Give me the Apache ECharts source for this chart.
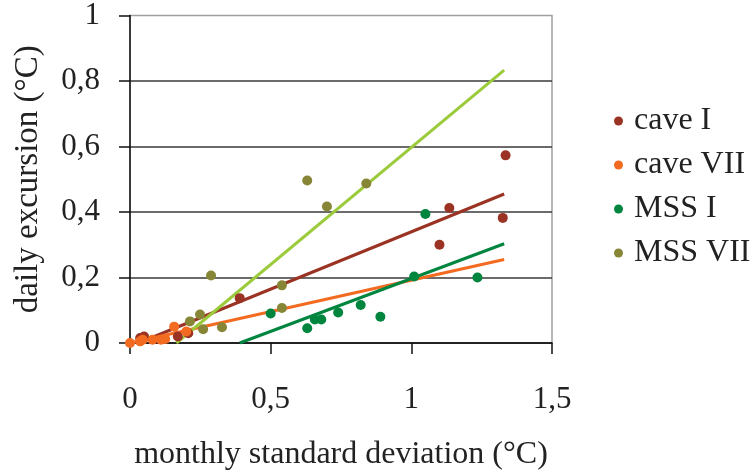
<!DOCTYPE html>
<html>
<head>
<meta charset="utf-8">
<script src="https://cdn.jsdelivr.net/npm/echarts@6/dist/echarts.min.js"></script>
<style>html,body{margin:0;padding:0;background:#fff;}#c{width:752px;height:476px;}</style>
</head>
<body>
<div id="c"></div>
<script>
// ---- data ----
var seriesNames = ['cave I', 'cave VII', 'MSS I', 'MSS VII'];
var caveI = [[0.036,0.015],[0.05,0.02],[0.17,0.02],[0.207,0.03],[0.39,0.137],[1.10,0.30],[1.135,0.412],[1.325,0.382],[1.335,0.573]];
var caveVII = [[0.0,0.0],[0.036,0.005],[0.045,0.01],[0.08,0.01],[0.11,0.01],[0.125,0.012],[0.157,0.05],[0.20,0.035]];
var mssI = [[0.50,0.09],[0.63,0.045],[0.657,0.072],[0.68,0.072],[0.74,0.093],[0.82,0.116],[0.89,0.08],[1.01,0.203],[1.05,0.394],[1.235,0.2]];
var mssVII = [[0.213,0.066],[0.249,0.087],[0.26,0.042],[0.288,0.206],[0.327,0.048],[0.54,0.176],[0.54,0.107],[0.63,0.496],[0.70,0.417],[0.84,0.487]];
var trendCaveI = [[0.03,0.0],[1.33,0.455]];
var trendCaveVII = [[0.0,0.0],[1.33,0.255]];
var trendMssI = [[0.39,0.0],[1.33,0.303]];
var trendMssVII = [[0.165,0.0],[1.33,0.833]];
var xTicks = [0, 0.5, 1, 1.5];
var yTicks = [0, 0.2, 0.4, 0.6, 0.8, 1];

var colors = ['#9a3324', '#f26b21', '#00853f', '#878636'];
var lineColors = ['#9a3324', '#f26b21', '#00853f', '#9bcb3b'];
var font = 'Liberation Serif';
function fmt(v){ return String(v).replace('.', ','); }

var chart = echarts.init(document.getElementById('c'), null, {renderer:'canvas'});
var scatterData = [caveI, caveVII, mssI, mssVII];
var trendData = [trendCaveI, trendCaveVII, trendMssI, trendMssVII];
var series = [];
for (var i = 0; i < 4; i++) {
  series.push({
    name: 'trend ' + seriesNames[i], type: 'line', data: trendData[i],
    symbol: 'none', lineStyle: {color: lineColors[i], width: 3}, z: 2, silent: true
  });
}
for (var j = 0; j < 4; j++) {
  series.push({
    name: seriesNames[j], type: 'scatter', data: scatterData[j],
    symbolSize: 10, itemStyle: {color: colors[j], opacity: 1}, z: 3
  });
}
chart.setOption({
  animation: false,
  backgroundColor: '#fff',
  grid: {left: 130, top: 11, right: 200, bottom: 128, show: true, borderColor: '#a0a0a0', borderWidth: 1.5, backgroundColor: 'transparent'},
  legend: {
    data: seriesNames, orient: 'vertical', left: 609, top: 100, itemGap: 12,
    icon: 'circle', itemWidth: 9, itemHeight: 9,
    textStyle: {fontFamily: font, fontSize: 32, color: '#222', padding: [0,0,0,6]}
  },
  xAxis: {
    type: 'value', min: xTicks[0], max: xTicks[xTicks.length-1], interval: 0.5,
    name: 'monthly standard deviation (°C)', nameLocation: 'middle', nameGap: 96,
    nameTextStyle: {fontFamily: font, fontSize: 32, color: '#222'},
    axisLine: {show: true, onZero: false, lineStyle: {color: '#111', width: 1.5}},
    axisTick: {show: true, length: 11, lineStyle: {color: '#111', width: 1.5}},
    axisLabel: {fontFamily: font, fontSize: 31, color: '#222', margin: 41, formatter: fmt},
    splitLine: {show: false}
  },
  yAxis: {
    type: 'value', min: yTicks[0], max: yTicks[yTicks.length-1], interval: 0.2,
    name: 'daily excursion (°C)', nameLocation: 'middle', nameGap: 85,
    nameTextStyle: {fontFamily: font, fontSize: 33, color: '#222'},
    axisLine: {show: true, onZero: false, lineStyle: {color: '#111', width: 1.5}},
    axisTick: {show: true, length: 11, lineStyle: {color: '#111', width: 1.5}},
    axisLabel: {fontFamily: font, fontSize: 31, color: '#222', margin: 30, formatter: fmt},
    splitLine: {show: true, showMaxLine: false, lineStyle: {color: '#3a3a3a', width: 1.5}}
  },
  series: series
});
</script>
</body>
</html>
